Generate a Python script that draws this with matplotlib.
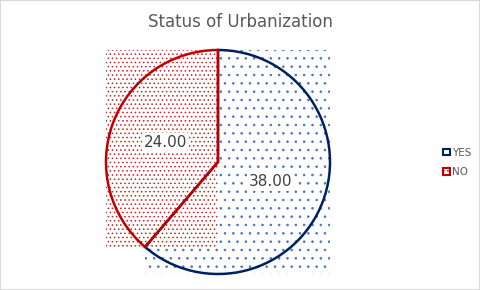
import matplotlib.pyplot as plt
from matplotlib.patches import Rectangle, Patch

labels = ['YES', 'NO']
values = [38, 24]
edge_colors = ['#002060', '#C00000']
dot_colors = ['#4472C4', '#D02020']
hatches = ['..', '....']

total = sum(values)

fig = plt.figure(figsize=(4.8, 2.9), dpi=100)
plt.rcParams['hatch.linewidth'] = 0.6

ax = fig.add_axes([106 / 480, 16 / 290, 224 / 480, 224 / 290])
wedges, texts, autotexts = ax.pie(
    values, startangle=90, counterclock=False,
    autopct=lambda p: '%.2f' % (p * total / 100), pctdistance=0.5,
    wedgeprops=dict(facecolor='none', linewidth=1.8),
    textprops=dict(fontsize=11, color='#404040'))
ax.set_xlim(-1, 1)
ax.set_ylim(-1, 1)
ax.set_aspect('equal')

for w, ec, dc, h in zip(wedges, edge_colors, dot_colors, hatches):
    w.set_edgecolor(ec)
    w.set_zorder(3)
    ext = w.get_path().get_extents().transformed(w.get_patch_transform())
    r = Rectangle((ext.x0, ext.y0), ext.width, ext.height, facecolor='white',
                  edgecolor=dc, hatch=h, linewidth=0, zorder=1, clip_on=False)
    ax.add_patch(r)

for t in autotexts:
    t.set_bbox(dict(facecolor='white', edgecolor='none', pad=1.5))
    t.set_zorder(4)

fig.text(0.5, 0.925, 'Status of Urbanization', ha='center', va='center',
         fontsize=12, color='#595959')

handles = [Patch(facecolor='white', edgecolor=edge_colors[0], linewidth=1.5),
           Patch(facecolor='white', edgecolor=edge_colors[1], linewidth=1.5, hatch='....')]
leg = fig.legend(handles, labels, loc='center left', bbox_to_anchor=(0.913, 0.44),
                 frameon=False, fontsize=7.5, handlelength=0.6, handleheight=0.6,
                 handletextpad=0.2, labelspacing=0.9, borderpad=0)
for t in leg.get_texts():
    t.set_color('#595959')

fig.patches.append(Rectangle((0, 0), 1, 1, transform=fig.transFigure, fill=False,
                             edgecolor='#D9D9D9', linewidth=1.5))

fig.savefig('out.png', dpi=100)
